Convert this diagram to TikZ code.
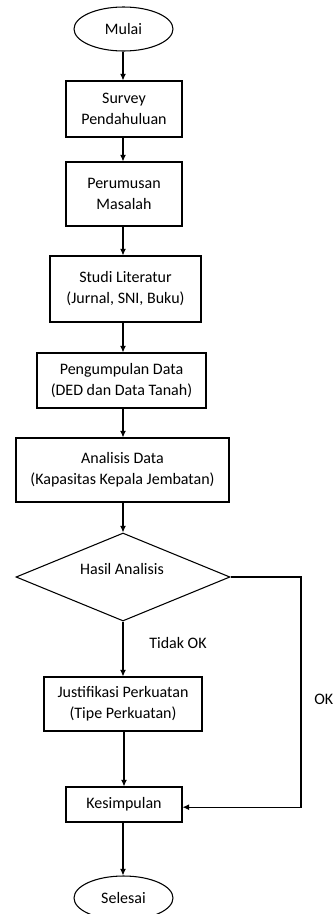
\documentclass[tikz,border=0pt]{standalone}
\usepackage{fontspec}
\setmainfont{Carlito}
\usetikzlibrary{shapes.geometric,arrows.meta}
\begin{document}
\begin{tikzpicture}[x=0.75pt,y=-0.75pt, line join=miter, >={Latex[length=5pt,width=4.5pt]},font=\fontsize{12pt}{15.75pt}\selectfont]
	\tikzset{kotak/.style={draw, line width=0.8pt, rectangle, align=center, inner sep=0pt},
		ujung/.style={draw, line width=0.8pt, ellipse, inner sep=0pt, minimum width=74.25pt, minimum height=33pt},
		panah/.style={->, line width=0.8pt}}
	\useasboundingbox (0,0) rectangle (334,914);
	%Mulai dan langkah awal
	\node[ujung] (mulai) at (123.5,29) {Mulai};
	\node[kotak, minimum width=87pt, minimum height=42pt] (survey) at (124,109) {Survey\\Pendahuluan};
	\node[kotak, minimum width=87pt, minimum height=48pt] (rumusan) at (124,194) {Perumusan\\Masalah};
	\node[kotak, minimum width=113.25pt, minimum height=49.5pt] (studi) at (125.5,289) {Studi Literatur\\(Jurnal, SNI, Buku)};
	\node[kotak, minimum width=126.75pt, minimum height=41.25pt] (data) at (121.5,380.5) {Pengumpulan Data\\(DED dan Data Tanah)};
	\node[kotak, minimum width=159.75pt, minimum height=48pt] (analisis) at (122.5,470) {Analisis Data\\(Kapasitas Kepala Jembatan)};
	%Keputusan
	\node[draw, line width=0.8pt, diamond, inner sep=0pt, minimum width=160.5pt, minimum height=66pt] (hasil) at (123,577) {};
	\node (hasiltxt) at (122,569) {Hasil Analisis};
	\node (tidakok) at (178,643) {Tidak OK};
	\node[kotak, minimum width=118.5pt, minimum height=40.5pt] (justifikasi) at (123,704) {Justifikasi Perkuatan\\(Tipe Perkuatan)};
	\node[anchor=west, inner sep=0pt] (ok) at (314,699) {OK};
	%Akhir
	\node[kotak, minimum width=87pt, minimum height=26.25pt] (kesimpulan) at (124,804.5) {Kesimpulan};
	\node[ujung] (selesai) at (123.5,898) {Selesai};
	\coordinate (kol) at (123,0);
	\coordinate (okkol) at (301,700);
	%Panah
	\draw[panah] (mulai.south -| kol) -- (survey.north -| kol);
	\draw[panah] (survey.south -| kol) -- (rumusan.north -| kol);
	\draw[panah] (rumusan.south -| kol) -- (studi.north -| kol);
	\draw[panah] (studi.south -| kol) -- (data.north -| kol);
	\draw[panah] (data.south -| kol) -- (analisis.north -| kol);
	\draw[panah] (analisis.south -| kol) -- (hasil.north);
	\draw[panah] (hasil.south) -- (justifikasi.north -| hasil);
	\draw[panah] (justifikasi.south -| kesimpulan) -- (kesimpulan.north);
	\draw[panah] (hasil.east) -| (okkol) |- ([yshift=-2pt]kesimpulan.east);
	\draw[panah] (kesimpulan.south -| kol) -- (selesai.north -| kol);
\end{tikzpicture}
\end{document}
